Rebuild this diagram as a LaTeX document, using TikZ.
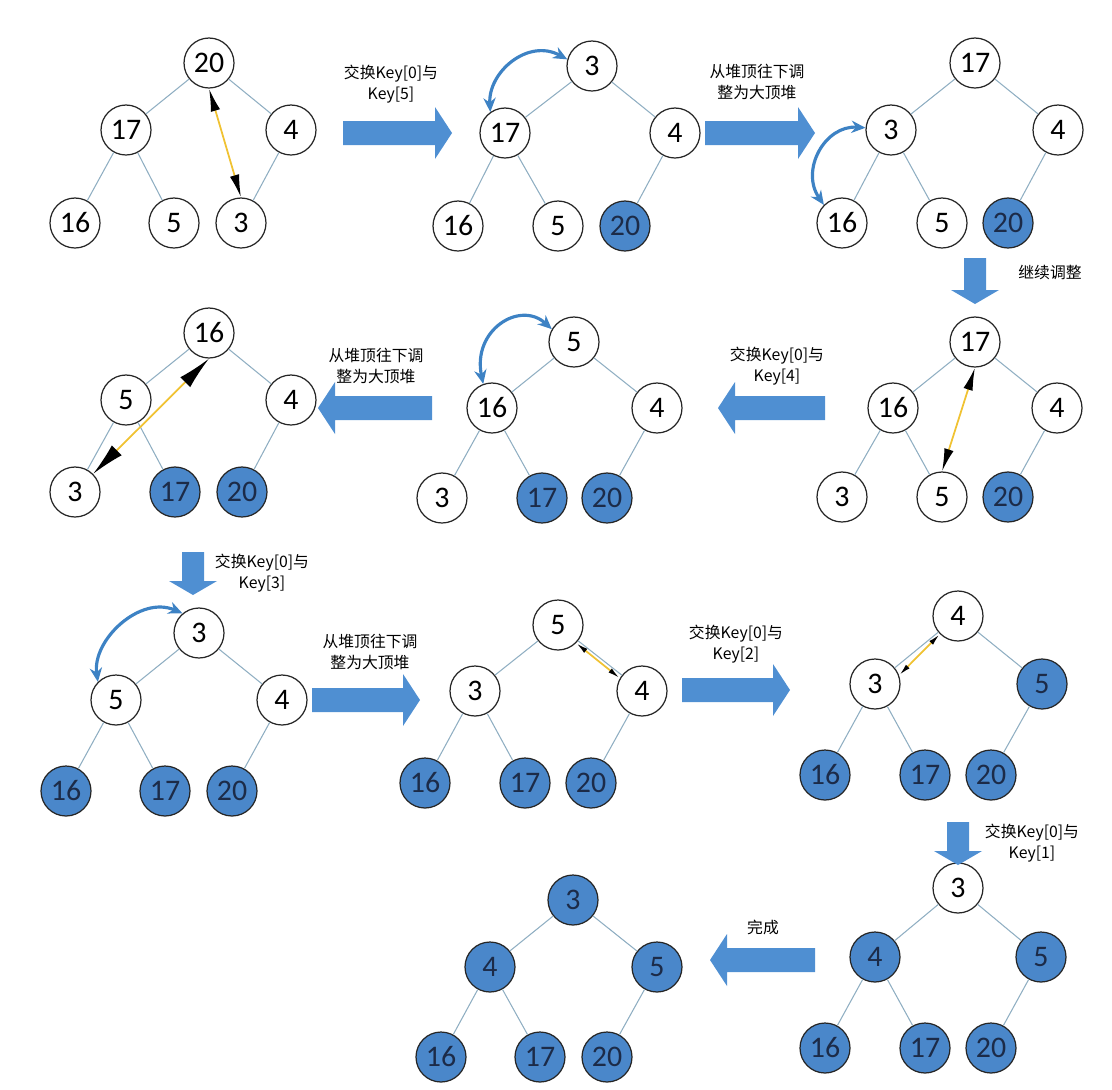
\documentclass[tikz,border=0pt]{standalone}
\usepackage{fontspec}
\setmainfont{Carlito}
\newfontfamily\cjk{Noto Sans CJK SC}
\usetikzlibrary{arrows.meta}
\definecolor{arrowblue}{HTML}{4F8FD2}
\definecolor{doneblue}{HTML}{4A87CA}
\definecolor{swapblue}{HTML}{3D82C4}
\definecolor{edgegray}{HTML}{8FAEC2}
\definecolor{navy}{HTML}{1C2B48}
\definecolor{amber}{HTML}{F0C232}

\tikzset{
  key/.style={circle,draw=black!85,line width=0.7pt,fill=white,minimum size=1cm,inner sep=0pt,font=\fontsize{17}{19}\selectfont},
  done/.style={key,fill=doneblue,text=navy},
  edge/.style={draw=edgegray,line width=0.6pt},
  swaparrow/.style={draw=swapblue,line width=1.8pt,{Stealth[length=8pt,width=7pt]}-{Stealth[length=8pt,width=7pt]}},
  cmparrow/.style={draw=amber,line width=1pt,{Latex[black,length=#1,width=0.42*#1]}-{Latex[black,length=#1,width=0.42*#1]}},
  cmparrow/.default=11pt,
  blockarrow/.style={fill=arrowblue},
  note/.style={font=\cjk\fontsize{9}{12}\selectfont,align=center,inner sep=1pt}
}

% block arrows: tail, tip, position
\newcommand{\rightblock}[3]{\fill[blockarrow] (#1,#3-12) -- (#2-17,#3-12) -- (#2-17,#3-26) -- (#2,#3) -- (#2-17,#3+26) -- (#2-17,#3+12) -- (#1,#3+12) -- cycle;}
\newcommand{\leftblock}[3]{\fill[blockarrow] (#1,#3-12) -- (#2+17,#3-12) -- (#2+17,#3-26) -- (#2,#3) -- (#2+17,#3+26) -- (#2+17,#3+12) -- (#1,#3+12) -- cycle;}
\newcommand{\downblock}[3]{\fill[blockarrow] (#3-11,#1) -- (#3-11,#2-14) -- (#3-24,#2-14) -- (#3,#2) -- (#3+24,#2-14) -- (#3+11,#2-14) -- (#3+11,#1) -- cycle;}

\begin{document}
\begin{tikzpicture}[x=0.02cm,y=-0.02cm]
  \useasboundingbox (0,0) rectangle (1112,1089);

  % row 1
  \node[key] (a0) at (209,63) {20};
  \node[key] (a1) at (126,130) {17};
  \node[key] (a2) at (291,130) {4};
  \node[key] (a3) at (75,223) {16};
  \node[key] (a4) at (174,223) {5};
  \node[key] (a5) at (241,223) {3};

  \node[key] (b0) at (592,66) {3};
  \node[key] (b1) at (505,133) {17};
  \node[key] (b2) at (675,133) {4};
  \node[key] (b3) at (458,226) {16};
  \node[key] (b4) at (558,226) {5};
  \node[done] (b5) at (625,226) {20};

  \node[key] (c0) at (975,63) {17};
  \node[key] (c1) at (891,130) {3};
  \node[key] (c2) at (1058,130) {4};
  \node[key] (c3) at (842,223) {16};
  \node[key] (c4) at (942,223) {5};
  \node[done] (c5) at (1008,223) {20};

  % row 2
  \node[key] (d0) at (975,342) {17};
  \node[key] (d1) at (893,408) {16};
  \node[key] (d2) at (1057,408) {4};
  \node[key] (d3) at (842,497) {3};
  \node[key] (d4) at (942,497) {5};
  \node[done] (d5) at (1008,497) {20};

  \node[key] (e0) at (574,342) {5};
  \node[key] (e1) at (492,408) {16};
  \node[key] (e2) at (657,408) {4};
  \node[key] (e3) at (442,498) {3};
  \node[done] (e4) at (542,498) {17};
  \node[done] (e5) at (607,498) {20};

  \node[key] (f0) at (209,333) {16};
  \node[key] (f1) at (126,400) {5};
  \node[key] (f2) at (291,400) {4};
  \node[key] (f3) at (75,492) {3};
  \node[done] (f4) at (175,492) {17};
  \node[done] (f5) at (242,492) {20};

  % row 3
  \node[key] (g0) at (199,633) {3};
  \node[key] (g1) at (116,700) {5};
  \node[key] (g2) at (282,700) {4};
  \node[done] (g3) at (66,791) {16};
  \node[done] (g4) at (165,791) {17};
  \node[done] (g5) at (232,791) {20};

  \node[key] (h0) at (558,625) {5};
  \node[key] (h1) at (475,691) {3};
  \node[key] (h2) at (642,691) {4};
  \node[done] (h3) at (425,783) {16};
  \node[done] (h4) at (525,783) {17};
  \node[done] (h5) at (591,783) {20};

  \node[key] (i0) at (958,616) {4};
  \node[key] (i1) at (875,684) {3};
  \node[done] (i2) at (1042,684) {5};
  \node[done] (i3) at (825,775) {16};
  \node[done] (i4) at (925,775) {17};
  \node[done] (i5) at (991,775) {20};

  % row 4
  \node[key] (j0) at (958,888) {3};
  \node[done] (j1) at (875,957) {4};
  \node[done] (j2) at (1041,957) {5};
  \node[done] (j3) at (825,1048) {16};
  \node[done] (j4) at (925,1048) {17};
  \node[done] (j5) at (991,1048) {20};

  \node[done] (k0) at (573,900) {3};
  \node[done] (k1) at (490,967) {4};
  \node[done] (k2) at (657,967) {5};
  \node[done] (k3) at (441,1057) {16};
  \node[done] (k4) at (540,1057) {17};
  \node[done] (k5) at (607,1057) {20};

  % tree edges
  \foreach \t in {a,b,c,d,e,f,g,h,i,j,k}
    \foreach \p/\c in {0/1,0/2,1/3,1/4,2/5}
      \draw[edge] (\t\p) -- (\t\c);

  % swaps and sift-downs
  \draw[cmparrow=13pt] (a0.south) -- (a5.north);
  \draw[swaparrow] (b1.125) .. controls (488,72) and (528,38) .. (b0.165);
  \draw[swaparrow] (c3.135) .. controls (800,170) and (825,125) .. (c1.175);
  \draw[cmparrow=13pt] (d0.south) -- (d4.north);
  \draw[swaparrow] (e1.110) .. controls (472,330) and (520,300) .. (e0.150);
  \draw[cmparrow=19pt] (f0.south) -- (f3.north east);
  \draw[swaparrow] (g1.135) .. controls (92,640) and (140,595) .. (g0.130);
  \draw[cmparrow=7pt] (h0.south east) -- (h2.150);
  \draw[cmparrow=7pt] (i0.225) -- (i1.20);

  % block arrows and notes
  \rightblock{343}{452}{133}
  \node[note] (n1) at (391,84) {交换Key[0]与\\Key[5]};
  \rightblock{705}{815}{133}
  \node[note] (n2) at (757,82) {从堆顶往下调\\整为大顶堆};
  \downblock{258}{304}{975}
  \node[note] (n3) at (1050,272) {继续调整};
  \leftblock{825}{718}{408}
  \node[note] (n4) at (777,366) {交换Key[0]与\\Key[4]};
  \leftblock{432}{318}{408}
  \node[note] (n5) at (376,366) {从堆顶往下调\\整为大顶堆};
  \downblock{552}{595}{193}
  \node[note] (n6) at (262,573) {交换Key[0]与\\Key[3]};
  \rightblock{312}{420}{700}
  \node[note] (n7) at (370,652) {从堆顶往下调\\整为大顶堆};
  \rightblock{682}{790}{690}
  \node[note] (n8) at (736,644) {交换Key[0]与\\Key[2]};
  \downblock{822}{865}{958}
  \node[note] (n9) at (1032,843) {交换Key[0]与\\Key[1]};
  \leftblock{815}{710}{960}
  \node[note] (n10) at (763,927) {完成};
\end{tikzpicture}
\end{document}
